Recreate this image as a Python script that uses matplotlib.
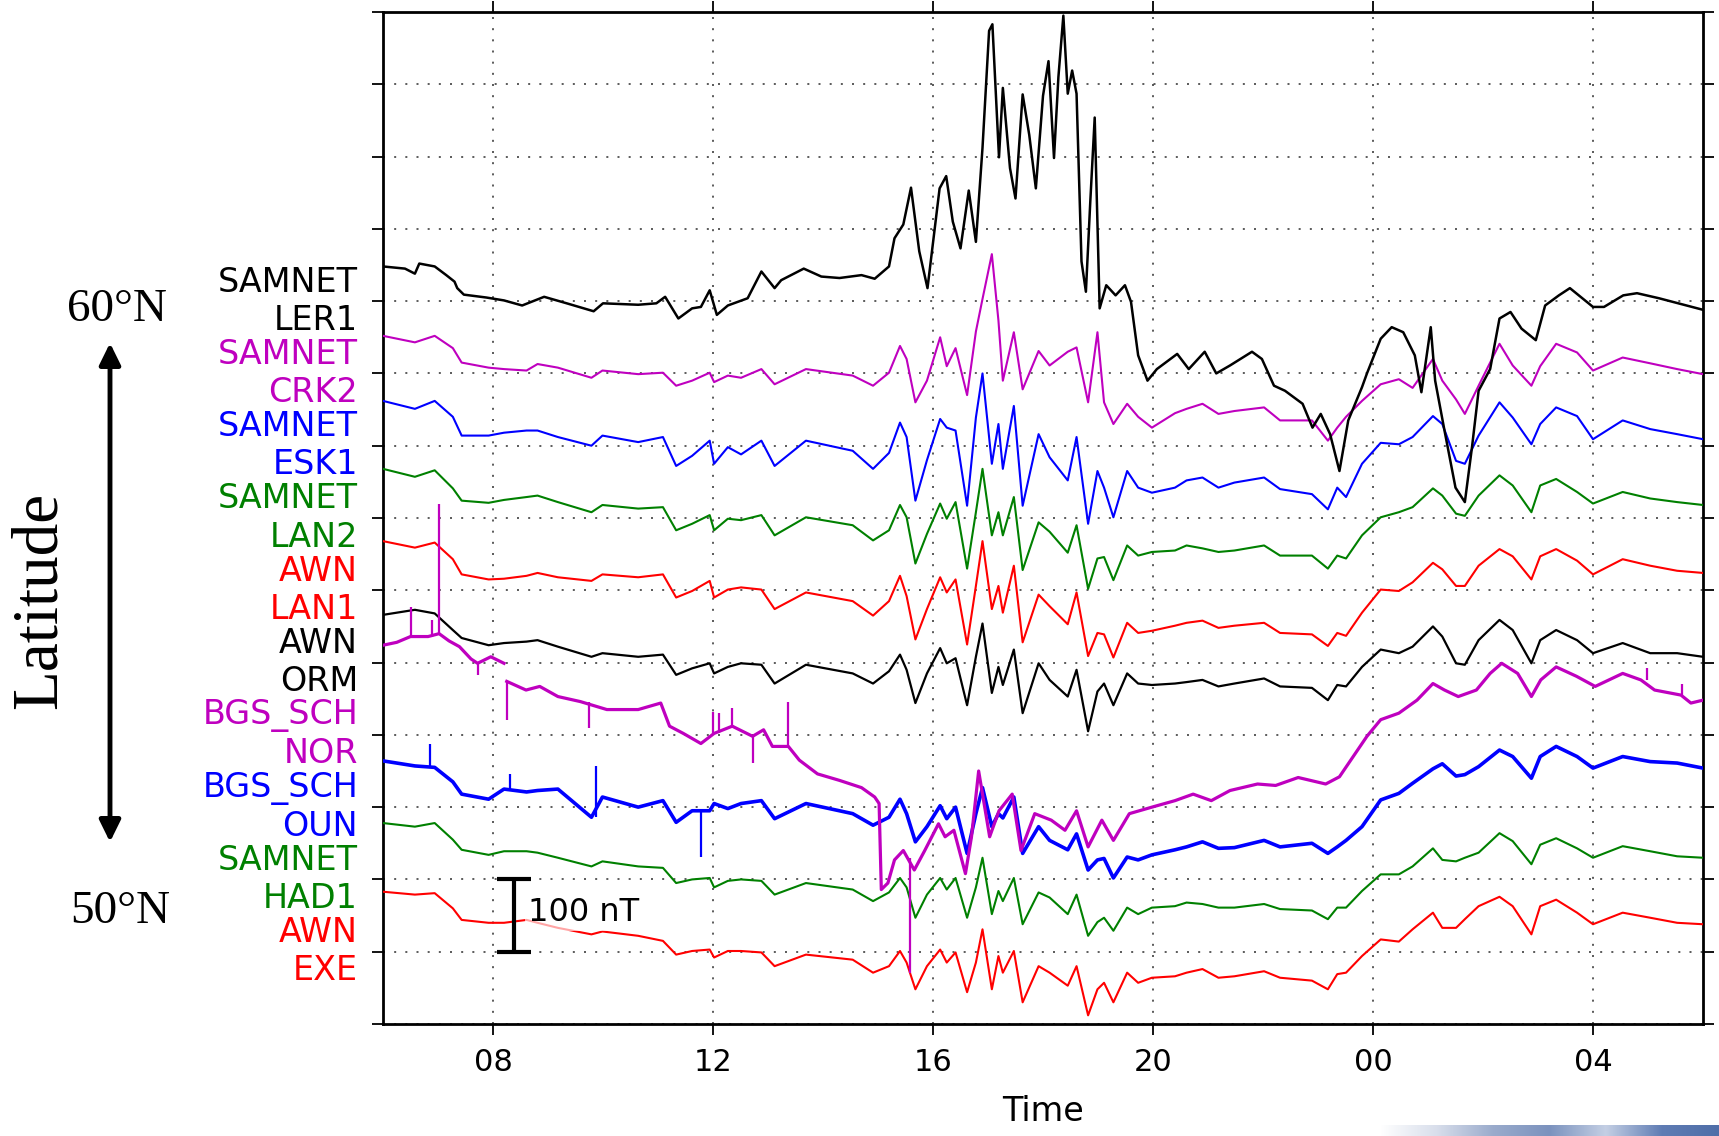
import numpy as np
import pandas as pd
import matplotlib
matplotlib.use('Agg')
import matplotlib.pyplot as plt
import matplotlib.dates as mdates
from matplotlib.colors import LinearSegmentedColormap

# sample times, hours after 00 UT of day 1 (SAMNET / AWN / OUN traces)
hours = [6.0, 6.58, 6.94, 7.27, 7.43, 7.92, 8.2, 8.61, 8.81, 9.18,
         9.79, 9.99, 10.64, 11.09, 11.33, 11.62, 11.94, 12.02, 12.27, 12.51,
         12.88, 13.12, 13.69, 14.54, 14.91, 15.2, 15.4, 15.52, 15.68, 15.89,
         16.13, 16.25, 16.41, 16.62, 16.78, 16.9, 17.07, 17.19, 17.27, 17.47,
         17.63, 17.92, 18.12, 18.45, 18.61, 18.82, 18.99, 19.11, 19.28, 19.53,
         19.73, 19.98, 20.4, 20.61, 20.9, 21.19, 21.48, 22.02, 22.31, 22.89,
         23.18, 23.35, 23.51, 23.8, 24.14, 24.47, 24.72, 25.09, 25.26, 25.51,
         25.67, 25.92, 26.3, 26.54, 26.88, 27.04, 27.33, 27.71, 28.0, 28.54,
         29.04, 29.53, 30.0]

# H deviations in nT
crk2 = [52, 43, 52, 35, 15, 8, 6, 4, 13, 8,
        -6, 4, -1, 1, -17, -10, 1, -12, -3, -6,
        6, -15, 6, -3, -17, 1, 38, 20, -40, -10,
        50, 10, 35, -30, 58, 103, 165, 73, -10, 57,
        -22, 31, 11, 30, 36, -40, 57, -40, -70, -42,
        -60, -75, -55, -49, -42, -56, -52, -47, -65, -65,
        -93, -75, -60, -38, -15, -8, -20, 20, -10, -36,
        -56, -17, 41, 11, -17, 10, 41, 29, 4, 22,
        14, 6, -1]
esk1 = [62, 51, 62, 40, 14, 14, 18, 21, 21, 12,
        0, 14, 5, 12, -28, -14, 7, -25, -2, -12,
        7, -28, 7, -7, -32, -10, 32, 12, -76, -20,
        37, 25, 21, -83, 39, 100, -25, 30, -32, 55,
        -83, 16, -16, -48, 12, -108, -35, -58, -99, -35,
        -58, -65, -58, -48, -44, -58, -51, -44, -60, -67,
        -88, -58, -71, -25, 4, 2, 12, 41, 30, -21,
        -25, 14, 60, 39, 2, 30, 53, 41, 9, 35,
        23, 16, 9]
lan2 = [68, 57, 66, 41, 24, 21, 25, 29, 31, 22,
        8, 18, 13, 15, -17, -8, 4, -17, -1, -3,
        4, -24, 1, -10, -31, -17, 18, 1, -63, -22,
        20, -1, 22, -70, 8, 68, -24, 8, -24, 29,
        -72, -6, -19, -48, -10, -98, -56, -54, -86, -38,
        -52, -47, -45, -38, -42, -47, -45, -38, -52, -52,
        -70, -52, -56, -24, 1, 8, 15, 41, 31, 6,
        3, 31, 59, 45, 8, 45, 54, 36, 20, 36,
        27, 22, 18]
lan1 = [68, 59, 66, 43, 22, 15, 16, 20, 24, 18,
        13, 22, 18, 22, -10, -1, 13, -10, 1, 4,
        1, -26, -3, -15, -35, -15, 20, -8, -68, -26,
        18, -3, 15, -75, 6, 68, -26, 6, -31, 34,
        -72, -6, -22, -47, -3, -91, -59, -61, -93, -45,
        -59, -56, -49, -45, -42, -52, -49, -45, -59, -61,
        -77, -59, -63, -31, 1, -1, 11, 38, 29, 6,
        6, 34, 57, 47, 15, 47, 57, 41, 22, 43,
        34, 27, 24]
orm = [66, 73, 68, 45, 34, 24, 27, 29, 31, 22,
       8, 13, 8, 11, -17, -8, -1, -15, -6, -1,
       -3, -29, -3, -15, -29, -12, 11, -10, -56, -15,
       20, -1, 6, -59, 8, 54, -42, -6, -31, 18,
       -70, -1, -24, -47, -10, -95, -40, -29, -59, -15,
       -29, -31, -29, -27, -24, -33, -29, -22, -33, -35,
       -52, -31, -33, -6, 18, 13, 22, 50, 36, -1,
       -3, 31, 59, 45, -1, 31, 45, 31, 13, 27,
       13, 13, 8]
oun = [64, 57, 55, 35, 18, 11, 25, 21, 23, 25,
       -14, 14, 0, 9, -21, -5, -5, 5, -2, 5,
       9, -16, 5, -9, -25, -14, 11, -9, -48, -27,
       2, -16, 0, -64, -9, 27, -27, -9, -15, 14,
       -64, -27, -46, -59, -37, -87, -73, -71, -98, -69,
       -73, -66, -59, -55, -48, -57, -56, -46, -55, -50,
       -64, -55, -46, -27, 10, 19, 33, 53, 60, 43,
       45, 56, 79, 70, 40, 70, 84, 70, 54, 70,
       63, 61, 54]
had1 = [78, 73, 78, 55, 41, 34, 39, 39, 37, 30,
        18, 25, 18, 16, -5, 0, 2, -11, -2, 0,
        -2, -21, -5, -14, -30, -18, 2, -11, -53, -21,
        2, -14, 2, -53, -11, 30, -48, -16, -30, 2,
        -62, -18, -25, -48, -21, -78, -59, -53, -71, -39,
        -48, -39, -37, -32, -34, -39, -39, -34, -41, -43,
        -55, -39, -39, -16, 7, 7, 18, 43, 27, 25,
        30, 37, 64, 53, 21, 48, 57, 43, 30, 46,
        39, 32, 30]
exe = [83, 79, 81, 60, 44, 40, 40, 44, 40, 33,
       24, 28, 22, 15, -4, 1, 3, -8, 1, 1,
       -1, -20, -4, -11, -29, -20, 1, -15, -52, -20,
       3, -15, -1, -56, -15, 31, -52, -6, -29, 1,
       -70, -20, -29, -47, -20, -88, -52, -43, -70, -29,
       -43, -36, -34, -29, -24, -36, -34, -27, -36, -40,
       -52, -31, -29, -6, 17, 14, 31, 54, 33, 33,
       45, 63, 76, 63, 24, 63, 72, 54, 38, 54,
       47, 40, 38]

# LER1 has its own sampling (large substorm excursions)
ler1_hours = [6.0, 6.4, 6.58, 6.66, 6.94, 7.15, 7.3, 7.35, 7.47, 7.88,
              8.2, 8.53, 8.93, 9.34, 9.83, 10.0, 10.64, 10.97, 11.13, 11.37,
              11.62, 11.78, 11.94, 12.07, 12.27, 12.63, 12.88, 13.12, 13.24, 13.65,
              13.97, 14.3, 14.7, 14.94, 15.2, 15.3, 15.46, 15.6, 15.75, 15.9,
              16.12, 16.24, 16.36, 16.5, 16.65, 16.78, 16.9, 17.02, 17.08, 17.2,
              17.27, 17.4, 17.5, 17.63, 17.75, 17.87, 18.0, 18.1, 18.2, 18.28,
              18.37, 18.45, 18.53, 18.61, 18.7, 18.78, 18.86, 18.94, 19.03, 19.15,
              19.32, 19.49, 19.6, 19.73, 19.9, 20.07, 20.44, 20.65, 20.94, 21.15,
              21.4, 21.8, 21.98, 22.2, 22.4, 22.72, 22.9, 23.05, 23.22, 23.39,
              23.55, 23.8, 23.89, 24.14, 24.34, 24.55, 24.76, 24.88, 25.05, 25.13,
              25.3, 25.5, 25.67, 25.8, 25.92, 26.13, 26.3, 26.5, 26.7, 26.96,
              27.13, 27.38, 27.58, 28.0, 28.2, 28.55, 28.8, 29.2, 29.55, 30.0]
ler1 = [48, 45, 38, 52, 48, 36, 27, 18, 9, 5,
        1, -6, 6, -3, -14, -3, -5, -3, 6, -24,
        -10, -8, 15, -19, -6, 4, 41, 18, 29, 45,
        34, 32, 36, 31, 48, 87, 106, 157, 69, 18,
        156, 173, 110, 73, 153, 82, 212, 374, 383, 199,
        295, 184, 142, 286, 230, 156, 284, 332, 198, 310,
        395, 287, 319, 287, 55, 13, 138, 254, -10, 22,
        8, 22, -1, -75, -110, -94, -73, -94, -70, -100,
        -89, -70, -80, -117, -124, -142, -175, -156, -184, -235,
        -165, -119, -100, -52, -36, -43, -75, -126, -36, -110,
        -179, -258, -278, -202, -124, -94, -24, -15, -38, -54,
        -6, 8, 18, -8, -8, 8, 11, 4, -3, -12]

# BGS NOR has a data gap and a baseline jump
nor_hours = [6.0, 6.25, 6.5, 6.82, 7.02, 7.2, 7.39, 7.6, 7.72, 7.96,
             8.2, 8.22, 8.25, 8.6, 8.85, 9.18, 9.59, 10.07, 10.64, 11.05,
             11.21, 11.46, 11.78, 12.02, 12.35, 12.72, 12.92, 13.08, 13.37, 13.57,
             13.9, 14.3, 14.7, 14.94, 15.02, 15.06, 15.18, 15.3, 15.46, 15.66,
             15.85, 16.1, 16.22, 16.38, 16.59, 16.7, 16.83, 17.03, 17.2, 17.44,
             17.6, 17.85, 18.15, 18.4, 18.61, 18.82, 19.07, 19.28, 19.57, 19.98,
             20.4, 20.73, 21.06, 21.4, 21.9, 22.23, 22.64, 23.14, 23.39, 23.64,
             23.89, 24.14, 24.47, 24.8, 25.09, 25.3, 25.55, 25.88, 26.13, 26.34,
             26.63, 26.88, 27.05, 27.33, 27.7, 28.04, 28.54, 28.87, 29.12, 29.6,
             29.78, 30.0]
nor = [124, 128, 136, 136, 140, 130, 122, 105, 99, 108,
       99, np.nan, 74, 62, 67, 53, 46, 35, 35, 44,
       12, 2, -12, 2, 12, -2, 7, -16, -16, -35,
       -54, -63, -73, -86, -95, -214, -205, -173, -160, -187,
       -160, -123, -141, -132, -192, -141, -50, -141, -105, -82,
       -160, -109, -118, -132, -105, -155, -118, -146, -109, -100,
       -91, -82, -91, -77, -68, -70, -59, -68, -58, -30,
       -2, 21, 30, 48, 71, 62, 53, 62, 85, 99,
       85, 53, 76, 94, 81, 67, 85, 76, 62, 55,
       44, 48]

# single-sample spikes: time, from, to (nT)
nor_spike_hours = [6.5, 6.9, 7.02, 7.72, 8.25, 9.75, 12.0, 12.1, 12.35, 12.72, 13.37, 15.58, 28.99, 29.62]
nor_spike_lo = [136, 136, 140, 83, 21, 9, 2, 2, 12, -39, -16, -329, 76, 55]
nor_spike_hi = [177, 159, 320, 99, 74, 46, 32, 30, 37, -2, 46, -170, 92, 70]
oun_spike_hours = [6.86, 8.3, 9.87, 11.78]
oun_spike_lo = [55, 25, -14, -69]
oun_spike_hi = [88, 46, 57, -5]

labels = ['AWN\nEXE', 'SAMNET\nHAD1', 'BGS_SCH\nOUN', 'BGS_SCH\nNOR', 'AWN\nORM',
          'AWN\nLAN1', 'SAMNET\nLAN2', 'SAMNET\nESK1', 'SAMNET\nCRK2', 'SAMNET\nLER1']
colors = ['r', 'g', 'b', 'm', 'k', 'r', 'g', 'b', 'm', 'k']
series = [(hours, exe), (hours, had1), (hours, oun), (nor_hours, nor), (hours, orm),
          (hours, lan1), (hours, lan2), (hours, esk1), (hours, crk2), (ler1_hours, ler1)]
widths = [1.5, 1.5, 2.6, 2.3, 1.6, 1.5, 1.5, 1.5, 1.5, 1.8]
offsets = [100 * (i + 1) for i in range(len(labels))]   # stacking, 100 nT apart

base = pd.Timestamp('2015-03-17')


def to_time(h):
    return base + pd.to_timedelta(np.asarray(h, dtype=float), unit='h')


fig = plt.figure(figsize=(17.19, 11.36), dpi=100)
ax = fig.add_axes([383 / 1719, 112 / 1136, 1320 / 1719, 1012 / 1136])

for i, ((t, v), c, lw, off) in enumerate(zip(series, colors, widths, offsets)):
    z = 3 + i
    if labels[i].endswith('NOR'):
        z = 20
    if labels[i].endswith('LER1'):
        z = 30
    ax.plot(to_time(t), np.asarray(v, dtype=float) + off, color=c, lw=lw, zorder=z,
            solid_joinstyle='round')

nor_off = offsets[labels.index('BGS_SCH\nNOR')]
oun_off = offsets[labels.index('BGS_SCH\nOUN')]
ax.vlines(to_time(nor_spike_hours), np.array(nor_spike_lo) + nor_off,
          np.array(nor_spike_hi) + nor_off, color='m', lw=1.6, zorder=20)
ax.vlines(to_time(oun_spike_hours), np.array(oun_spike_lo) + oun_off,
          np.array(oun_spike_hi) + oun_off, color='b', lw=1.6, zorder=9)

# 100 nT scale bar
bar_hour = 8.38
bar_bottom = 100
bar_len = 100
ax.errorbar(to_time([bar_hour]), [bar_bottom + bar_len / 2], yerr=bar_len / 2,
            color='k', lw=3, capsize=12, capthick=3, zorder=40)
ax.text(to_time(8.63), bar_bottom + 54, '100 nT', fontsize=23, va='center', ha='left',
        zorder=41, bbox=dict(facecolor='white', edgecolor='none', alpha=0.65, pad=2))

ax.set_xlim(to_time(6), to_time(30))
ax.set_ylim(0, 1400)
ax.set_yticks(np.arange(0, 1401, 100))
ticklabels = [''] * 15
for lab, off in zip(labels, offsets):
    ticklabels[off // 100] = lab
ax.set_yticklabels(ticklabels, va='center')
for tl, lab in zip(ax.get_yticklabels(), ticklabels):
    if lab:
        tl.set_color(colors[labels.index(lab)])

ax.xaxis.set_major_locator(mdates.HourLocator(byhour=range(0, 24, 4)))
ax.xaxis.set_major_formatter(mdates.DateFormatter('%H'))
ax.grid(True, color='0.25', lw=1.2, linestyle=(0, (1.2, 5.5)))
ax.tick_params(direction='out', length=8, width=1.3, top=True, right=True)
ax.tick_params(axis='x', labelsize=22, pad=9)
ax.tick_params(axis='y', labelsize=24, pad=10)
for s in ax.spines.values():
    s.set_linewidth(2)
ax.set_xlabel('Time', fontsize=24, labelpad=13)

# latitude annotation on the left
serif = 'Liberation Serif'
fig.text(117 / 1719, 1 - 310 / 1136, '60°N', fontsize=34, family=serif, ha='center', va='center')
fig.text(120 / 1719, 1 - 912 / 1136, '50°N', fontsize=34, family=serif, ha='center', va='center')
fig.text(40 / 1719, 1 - 600 / 1136, 'Latitude', fontsize=47, family=serif,
         rotation=90, ha='center', va='center')
ax.annotate('', xy=(110, 1136 - 343), xytext=(110, 1136 - 842),
            xycoords='figure pixels', textcoords='figure pixels', annotation_clip=False,
            arrowprops=dict(arrowstyle='<|-|>,head_length=0.65,head_width=0.32',
                            lw=3.5, color='k', shrinkA=0, shrinkB=0, mutation_scale=20))

# slide background fragment, bottom right
strip = fig.add_axes([1380 / 1719, 0, 339 / 1719, 11 / 1136])
strip_cmap = LinearSegmentedColormap.from_list(
    'slide', ['#ffffff', '#d8deeb', '#9aabcc', '#7b92be', '#c4cfe4', '#5f7cb4', '#4f6ea8'])
strip.imshow(np.linspace(0, 1, 256)[None, :], aspect='auto', cmap=strip_cmap)
strip.axis('off')

fig.savefig('out.png', dpi=100)
